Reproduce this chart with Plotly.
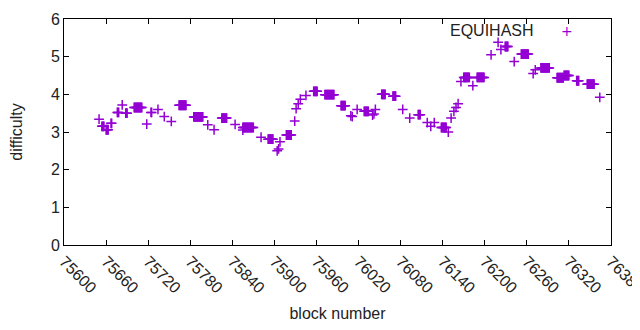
import numpy as np
import plotly.graph_objects as go

# plateau segments: first block, last block, difficulty
seg_start = [75650, 75654, 75660, 75667, 75676, 75683, 75688, 75700, 75718, 75724,
             75734, 75743, 75753, 75764, 75785, 75805, 75814, 75825, 75844, 75855,
             75855, 75881, 75891, 75904, 75906, 75908, 75917, 75929, 75931, 75934,
             75937, 75945, 75956, 75972, 75995, 76009, 76011, 76018, 76028, 76040,
             76042, 76044, 76053, 76069, 76083, 76093, 76105, 76118, 76123, 76128,
             76138, 76148, 76152, 76156, 76159, 76162, 76166, 76170, 76183, 76189,
             76209, 76219, 76223, 76229, 76242, 76252, 76269, 76272, 76280, 76303,
             76313, 76331, 76346, 76364]
seg_end = [75650, 75657, 75663, 75668, 75678, 75683, 75690, 75711, 75718, 75725,
           75734, 75743, 75753, 75774, 75798, 75805, 75814, 75832, 75844, 75870,
           75855, 75881, 75898, 75904, 75906, 75908, 75924, 75929, 75931, 75934,
           75937, 75945, 75961, 75985, 76001, 76009, 76011, 76018, 76034, 76040,
           76042, 76044, 76058, 76073, 76083, 76093, 76108, 76118, 76123, 76128,
           76145, 76148, 76152, 76156, 76159, 76162, 76166, 76178, 76183, 76199,
           76209, 76219, 76223, 76233, 76242, 76262, 76269, 76272, 76292, 76312,
           76320, 76334, 76356, 76364]
seg_diff = [3.34, 3.15, 3.06, 3.23, 3.52, 3.72, 3.50, 3.65, 3.21, 3.52,
            3.60, 3.41, 3.28, 3.71, 3.40, 3.19, 3.06, 3.37, 3.20, 3.12,
            3.05, 2.86, 2.81, 2.50, 2.55, 2.74, 2.92, 3.29, 3.62, 3.75,
            3.87, 3.97, 4.08, 3.99, 3.70, 3.43, 3.41, 3.60, 3.55, 3.45,
            3.48, 3.60, 4.00, 3.95, 3.60, 3.37, 3.46, 3.25, 3.15, 3.25,
            3.12, 3.00, 3.37, 3.55, 3.65, 3.75, 4.34, 4.45, 4.23, 4.45,
            5.05, 5.38, 5.19, 5.27, 4.87, 5.07, 4.55, 4.65, 4.70, 4.44,
            4.50, 4.36, 4.27, 3.92]

x_ticks = list(range(75600, 76381, 60))
x_tick_labels = [str(v) for v in x_ticks]
y_ticks = [0, 1, 2, 3, 4, 5, 6]
series_name = "EQUIHASH"
color = "#9400D3"

blocks, diffs = [], []
for s, e, d in zip(seg_start, seg_end, seg_diff):
    for b in range(s, e + 1):
        blocks.append(b)
        diffs.append(d)

fig = go.Figure()
fig.add_trace(go.Scatter(
    x=blocks, y=diffs, mode="markers", name=series_name, showlegend=False,
    marker=dict(symbol="cross-thin", size=7, line=dict(color=color, width=1.5)),
))

font = dict(family="Liberation Sans, Arial, sans-serif", size=16, color="#222222")
axis_common = dict(showline=True, linecolor="black", linewidth=1, mirror="ticks",
                   ticks="inside", ticklen=5, tickcolor="black", showgrid=False,
                   zeroline=False, tickfont=font, automargin=False,
                   ticklabeloverflow="allow")

fig.update_layout(
    width=632, height=314, margin=dict(l=56, r=29, t=11, b=77),
    paper_bgcolor="white", plot_bgcolor="white", font=font,
    xaxis=dict(range=[75600, 76380], tickvals=x_ticks, ticktext=x_tick_labels,
               tickangle=45,
               title=dict(text="block number", font=font, standoff=13), **axis_common),
    yaxis=dict(range=[0, 6], tickvals=y_ticks,
               title=dict(text="difficulty", font=font, standoff=24), **axis_common),
    annotations=[dict(xref="paper", yref="paper", x=0.862, y=0.947, xanchor="right",
                      yanchor="middle", text=series_name, showarrow=False, font=font),
                 dict(xref="paper", yref="paper", x=0.92, y=0.947, xanchor="center",
                      yanchor="middle", text="+", showarrow=False,
                      font=dict(family="DejaVu Sans", size=14, color=color))],
)

fig.write_html("out.html")
